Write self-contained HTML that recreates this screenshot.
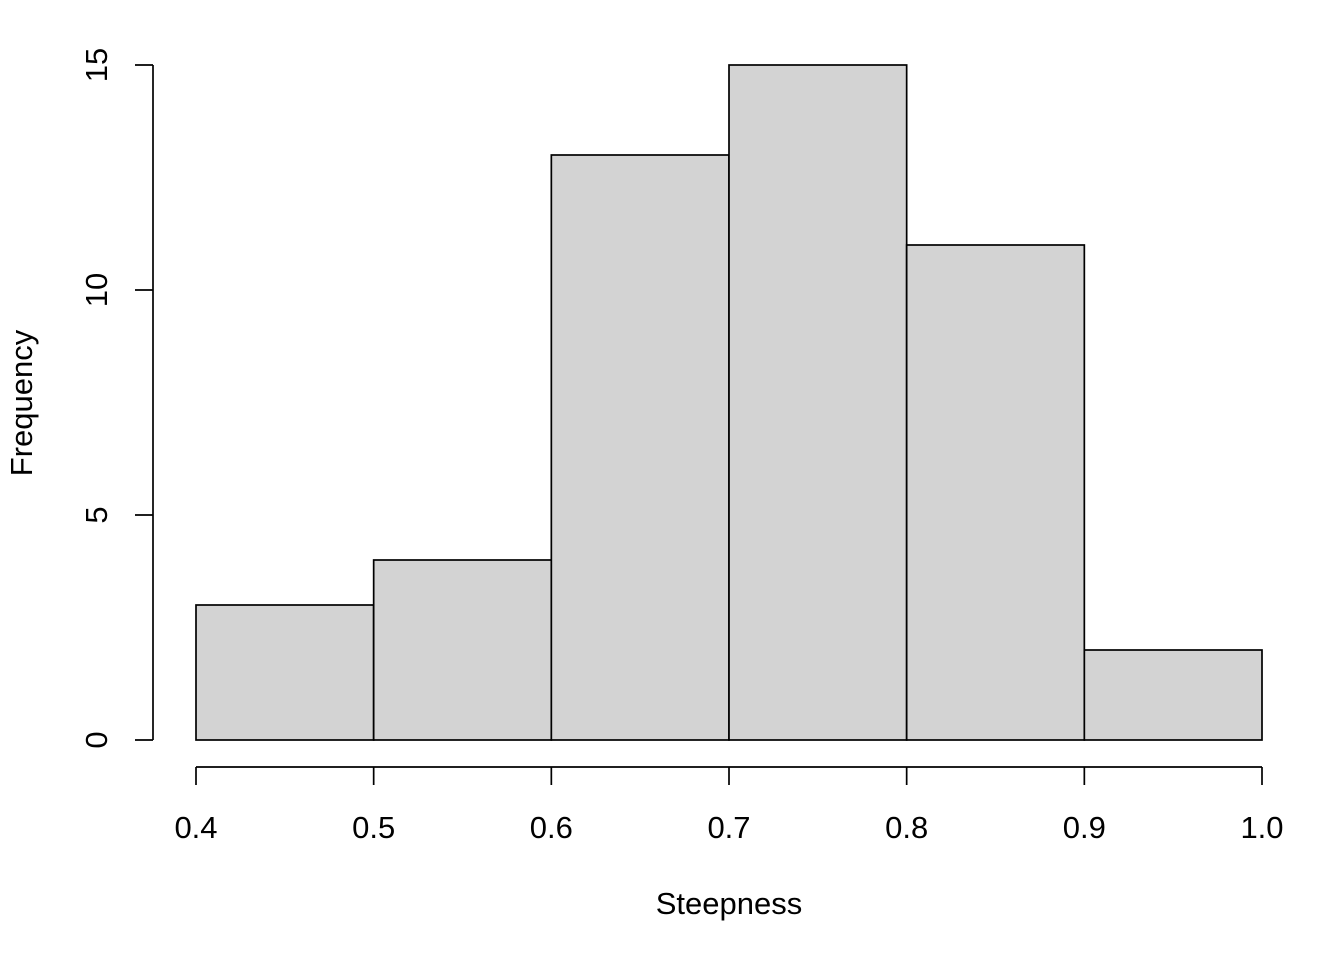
<!DOCTYPE html>
<html><head><meta charset="utf-8"><style>
body{margin:0;background:#fff}
text{font-family:"Liberation Sans",Arial,sans-serif;font-size:31px;fill:#000}
</style></head><body>
<svg id="chart" width="1344" height="960"></svg>
<script>
const binStarts=[0.4,0.5,0.6,0.7,0.8,0.9];
const binWidth=0.1;
const counts=[3,4,13,15,11,2];
const xTicks=["0.4","0.5","0.6","0.7","0.8","0.9","1.0"];
const yTicks=[0,5,10,15];
const NS="http://www.w3.org/2000/svg";
const svg=document.getElementById('chart');
const x=v=>196+(v-0.4)*(1262-196)/0.6;
const y=v=>740-v*45;
function mk(t,a){const e=document.createElementNS(NS,t);for(const k in a)e.setAttribute(k,a[k]);svg.appendChild(e);return e;}
binStarts.forEach((b,i)=>{
 const r=mk('rect',{x:x(b),y:y(counts[i]),width:x(b+binWidth)-x(b),height:y(0)-y(counts[i]),fill:'#d3d3d3',stroke:'#000','stroke-width':1.7});
 
 
});
const xa=mk('line',{x1:x(0.4),x2:x(1.0),y1:767,y2:767,stroke:'#000','stroke-width':1.7});


xTicks.forEach(t=>{
 const v=parseFloat(t);
 mk('line',{x1:x(v),x2:x(v),y1:767,y2:785,stroke:'#000','stroke-width':1.7});
 const tx=mk('text',{x:x(v),y:838,'text-anchor':'middle'});tx.textContent=t;
 
 
});
const ya=mk('line',{x1:153,x2:153,y1:y(0),y2:y(15),stroke:'#000','stroke-width':1.7});


yTicks.forEach(v=>{
 mk('line',{x1:135,x2:153,y1:y(v),y2:y(v),stroke:'#000','stroke-width':1.7});
 const tx=mk('text',{x:107,y:y(v),'text-anchor':'middle',transform:`rotate(-90 107 ${y(v)})`});tx.textContent=v;
 
 
});
const xt=mk('text',{x:729,y:914,'text-anchor':'middle'});xt.textContent='Steepness';


const yt=mk('text',{x:32,y:403,'text-anchor':'middle',transform:'rotate(-90 32 403)'});yt.textContent='Frequency';


</script>
</body></html>
